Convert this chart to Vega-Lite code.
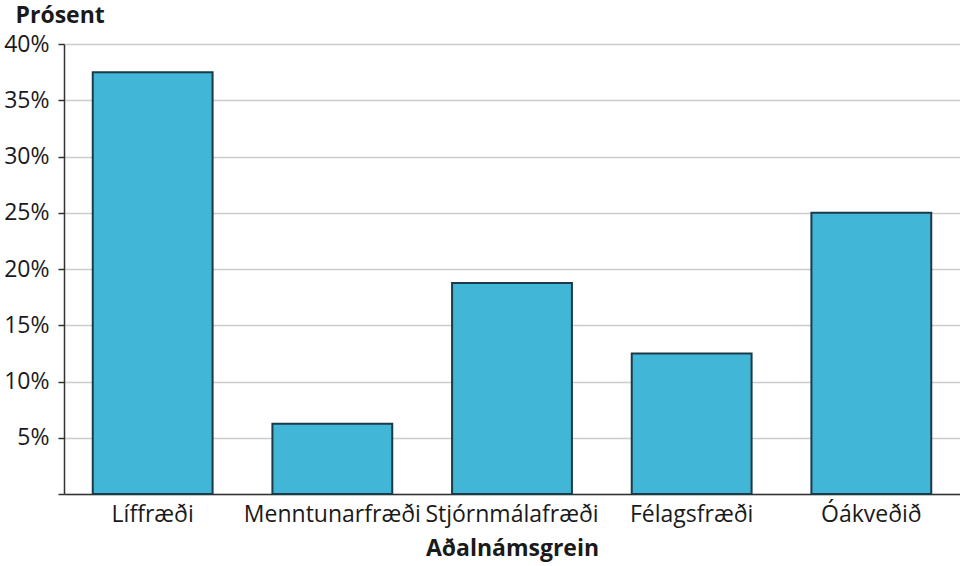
{
  "$schema": "https://vega.github.io/schema/vega-lite/v6.json",
  "autosize": "none",
  "width": 896,
  "height": 450,
  "padding": {"left": 64, "top": 44, "right": 0, "bottom": 72},
  "background": "white",
  "data": {
    "values": [
      {"grein": "Líffræði", "prosent": 37.5},
      {"grein": "Menntunarfræði", "prosent": 6.25},
      {"grein": "Stjórnmálafræði", "prosent": 18.75},
      {"grein": "Félagsfræði", "prosent": 12.5},
      {"grein": "Óákveðið", "prosent": 25}
    ]
  },
  "mark": {"type": "bar", "fill": "#41b6d6", "stroke": "#1b3a48", "strokeWidth": 2},
  "encoding": {
    "x": {
      "field": "grein",
      "type": "nominal",
      "sort": null,
      "scale": {"paddingInner": 0.333, "paddingOuter": 0.16},
      "axis": {
        "title": "Aðalnámsgrein",
        "labelAngle": 0,
        "ticks": false,
        "labelPadding": 9,
        "titlePadding": 11
      }
    },
    "y": {
      "field": "prosent",
      "type": "quantitative",
      "scale": {"domain": [0, 40], "nice": false},
      "axis": {
        "title": "Prósent",
        "values": [0, 5, 10, 15, 20, 25, 30, 35, 40],
        "labelExpr": "datum.value == 0 ? '' : datum.value + '%'",
        "tickSize": 6,
        "labelPadding": 9,
        "titleAngle": 0,
        "titleAlign": "left",
        "titleBaseline": "alphabetic",
        "titleX": -49,
        "titleY": -22
      }
    }
  },
  "config": {
    "font": "Open Sans",
    "view": {"stroke": null},
    "axis": {
      "labelFont": "Open Sans",
      "labelFontSize": 23,
      "labelColor": "#1a1a1a",
      "titleFont": "Open Sans",
      "titleFontSize": 23,
      "titleFontWeight": "bold",
      "titleColor": "#1a1a1a",
      "domainColor": "#333333",
      "domainWidth": 1.5,
      "tickColor": "#333333",
      "tickWidth": 1.5,
      "gridColor": "#cccccc",
      "gridWidth": 1.5
    },
    "axisX": {"grid": false}
  }
}
